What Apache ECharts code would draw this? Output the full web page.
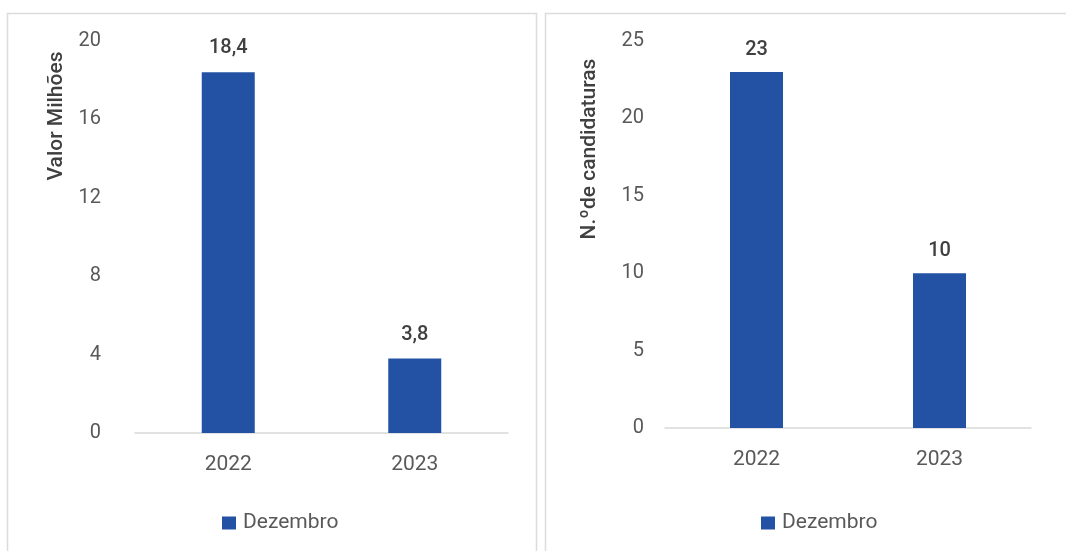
<!DOCTYPE html>
<html>
<head>
<meta charset="utf-8">
<script src="https://cdn.jsdelivr.net/npm/echarts@6/dist/echarts.min.js"></script>
<style>
  html, body { margin: 0; padding: 0; background: #fff; }
  #chart { width: 1066px; height: 551px; }
</style>
</head>
<body>
<div id="chart"></div>
<script>
// Anos comparados
const categories = ['2022', '2023'];
// Valor (milhões) em dezembro
const valorMilhoes = [18.4, 3.8];
// N.º de candidaturas em dezembro
const candidaturas = [23, 10];
const seriesName = 'Dezembro';
const leftTicks = { min: 0, max: 20, interval: 4 };
const rightTicks = { min: 0, max: 25, interval: 5 };

const FONT = 'Roboto, "Open Sans", sans-serif';
const BAR = '#2352a5';
const AXIS_TXT = '#595959';
const LABEL_TXT = '#404040';

const chart = echarts.init(document.getElementById('chart'), null, { renderer: 'canvas' });

function xAxis(gridIndex) {
  return {
    type: 'category', gridIndex, data: categories,
    axisLine: { show: true, lineStyle: { color: '#d9d9d9', width: 1.5 } },
    axisTick: { show: false },
    axisLabel: { color: AXIS_TXT, fontFamily: FONT, fontSize: 21, margin: 21 }
  };
}
function yAxis(gridIndex, t, margin) {
  return {
    type: 'value', gridIndex, min: t.min, max: t.max, interval: t.interval,
    splitLine: { show: false }, axisLine: { show: false }, axisTick: { show: false },
    axisLabel: { color: AXIS_TXT, fontFamily: FONT, fontSize: 20, margin }
  };
}
function barSeries(idx, data, fmt, dist) {
  return {
    name: seriesName, type: 'bar', xAxisIndex: idx, yAxisIndex: idx,
    data, barWidth: 53,
    itemStyle: { color: BAR },
    label: {
      show: true, position: 'top', distance: dist,
      color: LABEL_TXT, fontFamily: FONT, fontSize: 20, fontWeight: 500,
      formatter: fmt
    }
  };
}
function legend(left) {
  return {
    left, top: 507, data: [seriesName], icon: 'rect',
    itemWidth: 14, itemHeight: 13, selectedMode: false,
    textStyle: { color: AXIS_TXT, fontFamily: FONT, fontSize: 21, lineHeight: 22, padding: [0, 0, 0, 2] }
  };
}

chart.setOption({
  animation: false,
  backgroundColor: '#ffffff',
  grid: [
    { left: 135, width: 373, top: 41, bottom: 118 },
    { left: 665, width: 366, top: 41, bottom: 123 }
  ],
  xAxis: [xAxis(0), xAxis(1)],
  yAxis: [yAxis(0, leftTicks, 34), yAxis(1, rightTicks, 21)],
  legend: [legend(217), legend(756)],
  series: [
    barSeries(0, valorMilhoes, p => String(p.value).replace('.', ','), 14),
    barSeries(1, candidaturas, p => String(p.value), 12)
  ],
  graphic: [
    { type: 'rect', silent: true, shape: { x: 7.5, y: 13.5, width: 529, height: 560 },
      style: { fill: 'none', stroke: '#dcdcdc', lineWidth: 1.5 } },
    { type: 'rect', silent: true, shape: { x: 545.5, y: 13.5, width: 530, height: 560 },
      style: { fill: 'none', stroke: '#dcdcdc', lineWidth: 1.5 } },
    { type: 'text', silent: true, x: 57, y: 116, rotation: Math.PI / 2,
      style: { text: 'Valor Milhões', fill: LABEL_TXT, font: '500 21px ' + FONT, align: 'center', verticalAlign: 'middle' } },
    { type: 'text', silent: true, x: 590, y: 149, rotation: Math.PI / 2,
      style: { text: 'N.ºde candidaturas', fill: LABEL_TXT, font: '500 21px ' + FONT, align: 'center', verticalAlign: 'middle' } }
  ]
});
</script>
</body>
</html>
